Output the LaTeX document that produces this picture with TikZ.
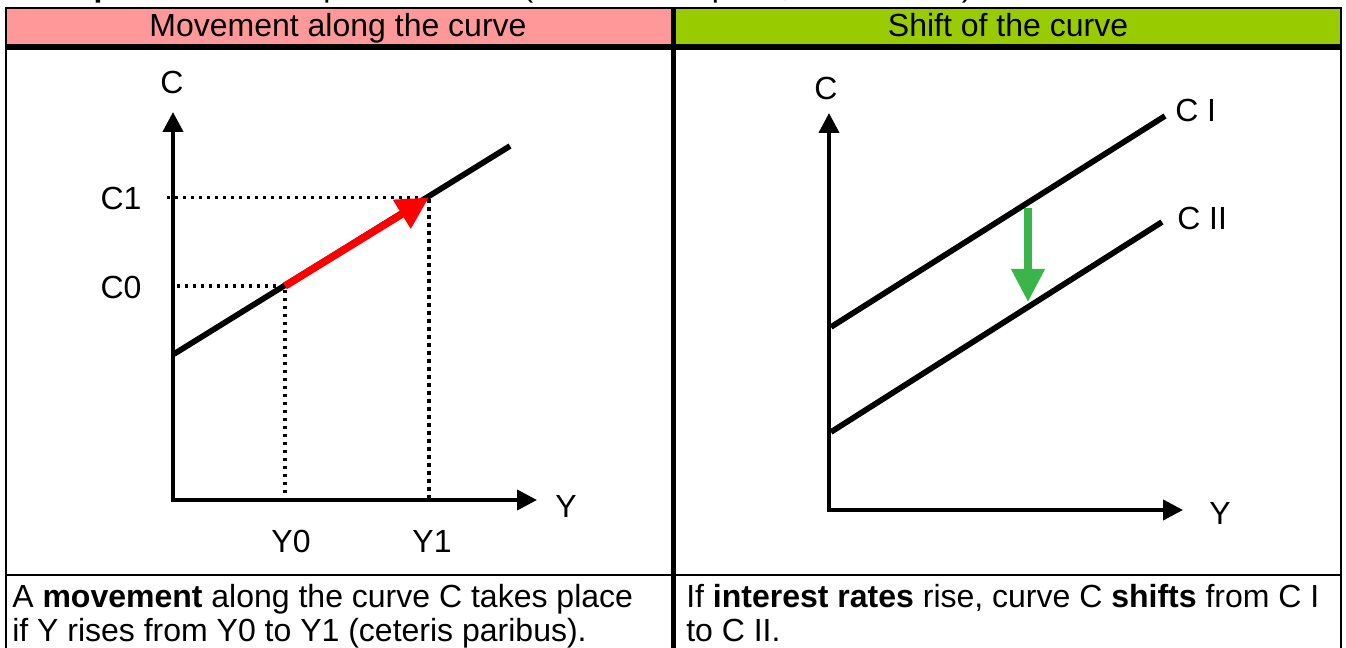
\documentclass[tikz,border=0pt]{standalone}
\usepackage{fontspec}
\setmainfont{Liberation Sans}
\usetikzlibrary{arrows.meta}
\definecolor{hdrpink}{HTML}{FF9999}
\definecolor{hdrgreen}{HTML}{99CC00}
\definecolor{arrowgreen}{HTML}{39B54A}
\begin{document}
\begin{tikzpicture}[x=0.75pt,y=-0.75pt,
  every node/.style={font=\fontsize{24}{26}\selectfont, inner sep=0pt},
  lbl/.style={anchor=base},
  txt/.style={anchor=base west},
  thinrule/.style={line width=1.6pt},
  thickrule/.style={line width=4.2pt},
  axis/.style={line width=3.1pt, {Triangle[length=15pt,width=15pt]}-{Triangle[length=15pt,width=15pt]}},
  curve/.style={line width=4.3pt},
  guide/.style={line width=2.6pt, dash pattern=on 2.6pt off 3.4pt},
  movearrow/.style={line width=5.6pt, red, -{Triangle[length=24pt,width=24pt]}},
  shiftarrow/.style={line width=5.4pt, arrowgreen, -{Triangle[length=24.75pt,width=24pt]}}]
\useasboundingbox (0,0) rectangle (1346,648);
\begin{scope}
\clip (0,0) rectangle (1346,648);
% title line, cut off by the top edge as in the reference
\node[txt] (titleA) at (8,-3) {\textbf{Example:}};
\node[txt] (titleB) at (204,-3) {Consumption function (C = Consumption, Y = Income)};
% header fills
\fill[hdrpink] (7,9) rectangle (671,45);
\fill[hdrgreen] (676,9) rectangle (1340,45);
% table rules
\coordinate (TL) at (6,8);
\coordinate (TR) at (1341,8);
\coordinate (BL) at (6,660);
\coordinate (BR) at (1341,660);
\draw[thinrule] (BL) -- (TL) -- (TR) -- (BR);
\draw[thickrule] (6,47) -- (1341,47);
\draw[line width=3.9pt] (673.5,8) -- (673.5,660);
\draw[thinrule] (6,575) -- (1341,575);
\end{scope}
% headers
\node[lbl] (h1) at (338,37) {Movement along the curve};
\node[lbl] (h2) at (1008,37) {Shift of the curve};

% ---------- left chart ----------
\coordinate (Ytip1) at (173,112);
\coordinate (Xtip1) at (537,500);
\coordinate (La) at (174,354);
\coordinate (Lb) at (510,146);
\coordinate (P0) at (285,286);
\coordinate (P1) at (429,197.5);
\coordinate (C0s) at (177,286);
\coordinate (C1s) at (167,197.5);
\coordinate (Y0s) at (285,500);
\coordinate (Y1s) at (429,500);
\draw[guide] (C0s) -- (P0) -- (Y0s);
\draw[guide] (C1s) -- (P1) -- (Y1s);
\draw[axis] (Ytip1) |- (Xtip1);
\draw[curve] (La) -- (Lb);
\draw[movearrow] (P0) -- (P1);
\node[lbl] (cl) at (172,94) {C};
\node[lbl] (yl) at (566,517) {Y};
\node[lbl] (c1) at (121,210) {C1};
\node[lbl] (c0) at (121,299) {C0};
\node[lbl] (y0) at (291,552) {Y0};
\node[lbl] (y1) at (432,552) {Y1};

% ---------- right chart ----------
\coordinate (Ytip2) at (829,113);
\coordinate (Xtip2) at (1183,510);
\coordinate (Ia) at (831,327);
\coordinate (Ib) at (1165,116);
\coordinate (IIa) at (831,432);
\coordinate (IIb) at (1162,222);
\coordinate (Gs) at (1028,208);
\coordinate (Ge) at (1028,302);
\draw[axis] (Ytip2) |- (Xtip2);
\draw[curve] (Ia) -- (Ib);
\draw[curve] (IIa) -- (IIb);
\draw[shiftarrow] (Gs) -- (Ge);
\node[lbl] (cr) at (826,100) {C};
\node[lbl] (yr) at (1220,524) {Y};
\node[txt] (ci) at (1175,122) {C I};
\node[txt] (cii) at (1177,230) {C II};

% ---------- captions ----------
\node[txt] (t1a) at (12,607) {A \textbf{movement} along the curve C takes place};
\node[txt] (t1b) at (12,641) {if Y rises from Y0 to Y1 (ceteris paribus).};
\node[txt] (t2a) at (686,607) {If \textbf{interest rates} rise, curve C \textbf{shifts} from C I};
\node[txt] (t2b) at (686,641) {to C II.};
\end{tikzpicture}
\end{document}
